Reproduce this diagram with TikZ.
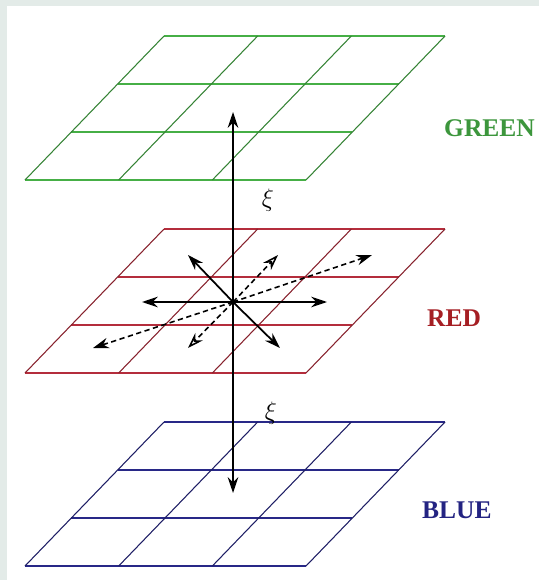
\documentclass[tikz,border=0pt]{standalone}
\usepackage{fontspec}
\newfontfamily\lblfont{Liberation Serif}
\usetikzlibrary{arrows.meta}
\definecolor{framegray}{RGB}{227,235,232}
\definecolor{gridgreen}{RGB}{70,175,70}
\definecolor{gridred}{RGB}{180,45,60}
\definecolor{gridblue}{RGB}{40,40,135}
\definecolor{txtgreen}{RGB}{60,150,60}
\definecolor{txtred}{RGB}{165,30,35}
\definecolor{txtblue}{RGB}{35,35,130}
\begin{document}
\begin{tikzpicture}[x=0.02cm, y=-0.02cm,
    rowline/.style={line width=1.1pt},
    colline/.style={line width=0.6pt},
    vec/.style={line width=1pt, -{Stealth[length=9pt,width=6pt]}},
    dvec/.style={line width=0.9pt, densely dashed, -{Stealth[length=9pt,width=6pt]}},
    ovec/.style={line width=0.9pt, densely dashed, -{Stealth[length=9pt,width=6pt,open]}},
    plabel/.style={anchor=west, font=\lblfont\bfseries\fontsize{14.5}{16}\selectfont},
    xilbl/.style={font=\Large, inner sep=0pt}]
    % frame
    \fill[framegray] (0,0) rectangle (539,580);
    \fill[white] (7,6) rectangle (539,580);
    \useasboundingbox (0,0) rectangle (539,580);
    % the three planes
    \foreach \col/\yy in {gridgreen/36, gridred/229, gridblue/422} {
      \begin{scope}[yshift=-\yy*0.02cm]
        \foreach \i in {0,...,3}
          \draw[rowline, \col] ({164-139*\i/3}, {48*\i}) -- ++(281,0);
        \foreach \i in {0,...,3}
          \draw[colline, \col!75!black] ({164+93.67*\i}, 0) -- ++(-139,144);
      \end{scope}
    }
    % centre of the red plane and ends of the vectors
    \coordinate (O) at (233,302);
    \coordinate (up) at (233,112);
    \coordinate (down) at (233,493);
    \coordinate (L) at (142,302);
    \coordinate (R) at (327,302);
    \coordinate (UL) at (188,255);
    \coordinate (DR) at (280,348);
    \coordinate (UR) at (278,255);
    \coordinate (DL) at (188,348);
    \coordinate (FR) at (372,255);
    \coordinate (FL) at (93,348);
    % vertical axis
    \draw[vec] (O) -- (up);
    \draw[vec] (O) -- (down);
    % vectors in the red plane
    \draw[vec] (O) -- (L);
    \draw[vec] (O) -- (R);
    \draw[vec] (O) -- (UL);
    \draw[vec] (O) -- (DR);
    \draw[ovec] (O) -- (UR);
    \draw[ovec] (O) -- (DL);
    \draw[dvec] (O) -- (FR);
    \draw[dvec] (O) -- (FL);
    % labels
    \node[xilbl] (xi1) at (268,200) {$\xi$};
    \node[xilbl] (xi2) at (271,413) {$\xi$};
    \node[plabel, txtgreen] (green) at (438,128) {GREEN};
    \node[plabel, txtred] (red) at (421,318) {RED};
    \node[plabel, txtblue] (blue) at (416,510) {BLUE};
\end{tikzpicture}
\end{document}
